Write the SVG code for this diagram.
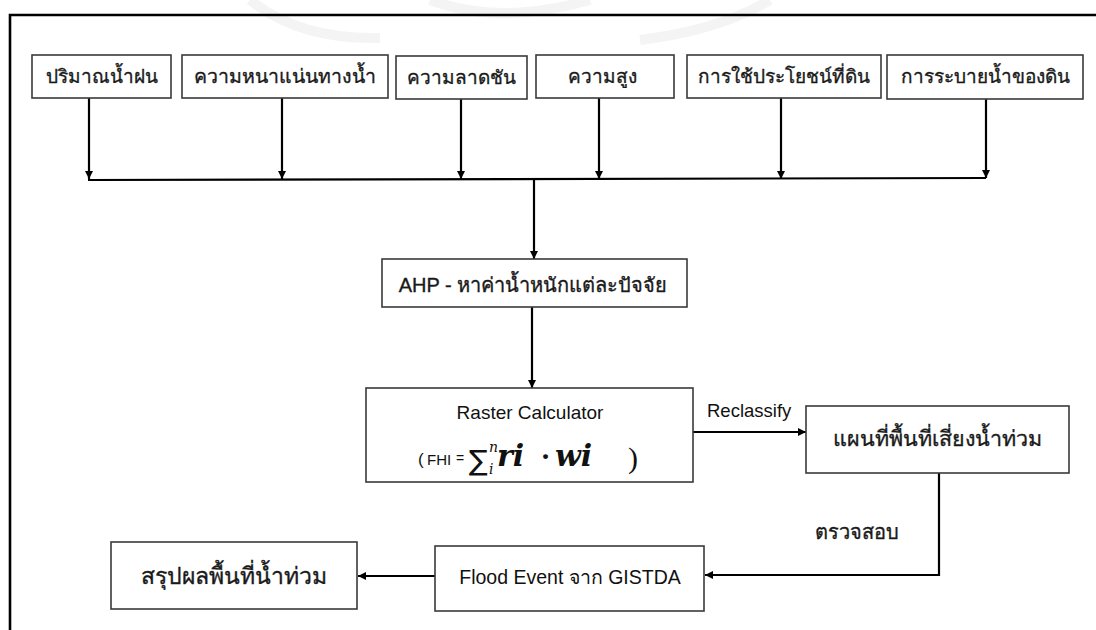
<svg xmlns="http://www.w3.org/2000/svg" width="1096" height="630" viewBox="0 0 1096 630">
<defs>
<style>
.box{fill:#fff;stroke:#3a3a3a;stroke-width:1.6}
.con{fill:none;stroke:#000;stroke-width:2.2}
.th{font-family:"Liberation Sans","Noto Sans","DejaVu Sans",sans-serif;fill:#1a1a1a;stroke:#1a1a1a;stroke-width:0.35;text-anchor:middle}
.la{font-family:"Liberation Sans",Arial,sans-serif;fill:#111}
.mth{font-family:"DejaVu Serif","Liberation Serif",serif;font-style:italic;font-weight:bold;fill:#111}
</style>
<marker id="ah" markerUnits="userSpaceOnUse" markerWidth="9" markerHeight="9" refX="8" refY="4.5" orient="auto">
<path d="M0,0.5 L8,4.5 L0,8.5 z" fill="#000"/>
</marker>
</defs>
<rect width="1096" height="630" fill="#fff"/>
<g id="watermark" fill="none" stroke="#f4f4f4" stroke-width="10">
<path d="M250,0 Q300,40 380,38"/>
<path d="M640,40 Q720,30 770,0"/>
<path d="M430,0 Q500,26 590,0"/>
</g>
<g id="frame" fill="none" stroke="#000" stroke-width="2.6">
<path d="M10,630 L10,15 L1096,15"/>
</g>
<g id="connectors">
<path class="con" d="M89,98 V179" marker-end="url(#ah)"/>
<path class="con" d="M282,98 V179" marker-end="url(#ah)"/>
<path class="con" d="M461,99 V179" marker-end="url(#ah)"/>
<path class="con" d="M599,98 V179" marker-end="url(#ah)"/>
<path class="con" d="M781,98 V179" marker-end="url(#ah)"/>
<path class="con" d="M986,99 V178" marker-end="url(#ah)"/>
<path class="con" d="M88,180 L986,178"/>
<path class="con" d="M534,179 V259" marker-end="url(#ah)"/>
<path class="con" d="M532,307 V388" marker-end="url(#ah)"/>
<path class="con" d="M693,432 H806" marker-end="url(#ah)"/>
<path class="con" d="M939,473 V575 H705" marker-end="url(#ah)"/>
<path class="con" d="M435,576 H358" marker-end="url(#ah)"/>
<text class="la" x="707" y="417" font-size="18.5">Reclassify</text>
<text class="th" x="857" y="539" font-size="20">ตรวจสอบ</text>
</g>
<g id="n1"><rect class="box" x="32" y="55" width="139" height="43"/><text class="th" x="101.5" y="83" font-size="19">ปริมาณน้ำฝน</text></g>
<g id="n2"><rect class="box" x="182" y="55" width="206" height="43"/><text class="th" x="285" y="83" font-size="19.5">ความหนาแน่นทางน้ำ</text></g>
<g id="n3"><rect class="box" x="396" y="56" width="131" height="43"/><text class="th" x="461.5" y="84" font-size="19">ความลาดชัน</text></g>
<g id="n4"><rect class="box" x="536" y="55" width="138" height="43"/><text class="th" x="602" y="83" font-size="19">ความสูง</text></g>
<g id="n5"><rect class="box" x="687" y="55" width="194" height="43"/><text class="th" x="784" y="83" font-size="19">การใช้ประโยชน์ที่ดิน</text></g>
<g id="n6"><rect class="box" x="887" y="55" width="196" height="44"/><text class="th" x="985" y="83" font-size="19">การระบายน้ำของดิน</text></g>
<g id="ahp"><rect class="box" x="382" y="259" width="305" height="48"/><text class="th" x="533" y="292" font-size="20">AHP - หาค่าน้ำหนักแต่ละปัจจัย</text></g>
<g id="raster"><rect class="box" x="366" y="388" width="327" height="94"/>
<text class="la" x="530" y="419" font-size="19" text-anchor="middle">Raster Calculator</text>
<text class="la" x="418" y="465" font-size="17">(</text>
<text class="la" x="427" y="465" font-size="15">FHI</text>
<text class="la" x="456" y="463" font-size="14">=</text>
<text x="469" y="470" font-family="'DejaVu Sans',sans-serif" font-size="28" fill="#111">∑</text>
<text x="489" y="452" font-family="'DejaVu Serif',serif" font-style="italic" font-size="14" fill="#111">n</text>
<text x="489" y="474" font-family="'DejaVu Serif',serif" font-style="italic" font-size="14" fill="#111">i</text>
<text class="mth" x="497" y="466" font-size="30">ri</text>
<text x="541" y="466" font-family="'DejaVu Serif',serif" font-size="26" font-weight="bold" fill="#111">·</text>
<text class="mth" x="555" y="466" font-size="30">wi</text>
<text x="628" y="468" font-family="'Liberation Serif',serif" font-size="30" fill="#111">)</text>
</g>
<g id="map"><rect class="box" x="806" y="406" width="263" height="67"/><text class="th" x="937.5" y="446" font-size="21.5">แผนที่พื้นที่เสี่ยงน้ำท่วม</text></g>
<g id="flood"><rect class="box" x="435" y="546" width="269" height="65"/><text class="la" x="570" y="584" font-size="19.5" text-anchor="middle">Flood Event จาก GISTDA</text></g>
<g id="summary"><rect class="box" x="111" y="542" width="246" height="67"/><text class="th" x="234" y="584" font-size="23">สรุปผลพื้นที่น้ำท่วม</text></g>
</svg>
